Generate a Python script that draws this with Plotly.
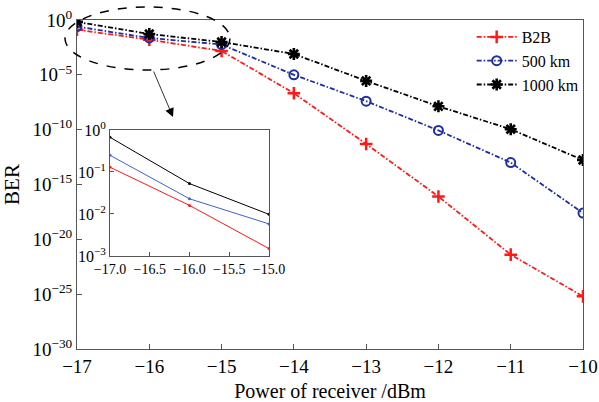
import plotly.graph_objects as go

power = [-17, -16, -15, -14, -13, -12, -11, -10]
ber_b2b = [0.13, 0.016, 1.5e-3, 2.1e-7, 5e-12, 8e-17, 4e-22, 6.3e-26]
ber_500 = [0.25, 0.023, 5.8e-3, 1e-5, 4e-8, 8.5e-11, 1e-13, 2.5e-18]
ber_1000 = [0.67, 0.053, 9.8e-3, 8e-4, 2.8e-6, 1.35e-8, 1.1e-10, 1.7e-13]
series_names = ["B2B", "500 km", "1000 km"]

x_ticks = [-17, -16, -15, -14, -13, -12, -11, -10]
x_ticktext = ["\u2212" + str(abs(v)) for v in x_ticks]
y_exps = [0, -5, -10, -15, -20, -25, -30]
inset_x_ticks = [-17.0, -16.5, -16.0, -15.5, -15.0]
inset_x_ticktext = ["\u2212%.1f" % abs(v) for v in inset_x_ticks]
inset_y_exps = [0, -1, -2, -3]

FONT = "Liberation Serif, Times New Roman, serif"
red, blue, black = "#ff1a1a", "#1f2fa0", "#000000"
DASH = "5px,2px,1.5px,2px"

fig = go.Figure()
fig.add_trace(go.Scatter(x=power, y=ber_b2b, name=series_names[0], mode="lines+markers",
                         line=dict(color=red, width=1.8, dash=DASH),
                         marker=dict(symbol="cross-thin-open", size=9, line=dict(color=red, width=2.5))))
fig.add_trace(go.Scatter(x=power, y=ber_500, name=series_names[1], mode="lines+markers",
                         line=dict(color=blue, width=1.8, dash=DASH),
                         marker=dict(symbol="circle-open", size=9, line=dict(color=blue, width=2))))
fig.add_trace(go.Scatter(x=power, y=ber_1000, name=series_names[2], mode="lines+markers",
                         line=dict(color=black, width=1.8, dash=DASH),
                         marker=dict(symbol="asterisk-open", size=10, line=dict(color=black, width=2.6))))

# inset
n_in = 3
for ys, c in [(ber_1000, black), (ber_500, "#4060d0"), (ber_b2b, red)]:
    fig.add_trace(go.Scatter(x=power[:n_in], y=ys[:n_in], mode="lines+markers", showlegend=False,
                             line=dict(color=c, width=1), marker=dict(color=c, size=3),
                             xaxis="x2", yaxis="y2"))

axis_common = dict(showline=True, linecolor="#555", linewidth=1, mirror=True, ticks="inside",
                   tickcolor="#555", showgrid=False, zeroline=False, automargin=False)

fig.update_layout(
    width=599, height=402,
    margin=dict(l=77, r=16, t=20, b=53),
    plot_bgcolor="white", paper_bgcolor="white",
    font=dict(family=FONT, color="black", size=17),
    xaxis=dict(range=[-17, -10], tickvals=x_ticks, ticktext=x_ticktext, ticklen=5,
               title=dict(text="Power of receiver /dBm", font=dict(size=20, family=FONT)),
               tickfont=dict(size=19, family=FONT), **axis_common),
    yaxis=dict(type="log", range=[-30, 0], tickvals=[10.0 ** e for e in y_exps],
               ticktext=["10<sup>%s</sup>" % ("\u2212" + str(-e) if e < 0 else str(e)) for e in y_exps],
               ticklen=5, tickfont=dict(size=19, family=FONT),
               title=dict(text="BER", font=dict(size=21, family=FONT)), **axis_common),
    xaxis2=dict(domain=[0.0652, 0.3794], anchor="y2", range=[-17, -15], tickvals=inset_x_ticks,
                ticktext=inset_x_ticktext, tickfont=dict(size=14, family=FONT), ticklen=4, **axis_common),
    yaxis2=dict(domain=[0.2827, 0.6657], anchor="x2", type="log", range=[-3, 0],
                tickvals=[10.0 ** e for e in inset_y_exps],
                ticktext=["10<sup>%s</sup>" % ("\u2212" + str(-e) if e < 0 else str(e)) for e in inset_y_exps],
                tickfont=dict(size=16, family=FONT), ticklen=4, **axis_common),
    legend=dict(x=0.78, y=1.0, xanchor="left", yanchor="top", bgcolor="rgba(0,0,0,0)",
                font=dict(size=16, family=FONT), tracegroupgap=0, itemwidth=40),
    showlegend=True,
)

# dashed ellipse highlighting the zoomed region
fig.add_shape(type="circle", xref="paper", yref="paper",
              x0=(65 - 77) / 506, x1=(230 - 77) / 506, y0=(349 - 70) / 329, y1=(349 - 7) / 329,
              line=dict(color="black", width=1.5, dash="dash"), layer="above")

fig.add_annotation(xref="paper", yref="paper", x=(173 - 77) / 506, y=(349 - 117) / 329,
                   ax=-20, ay=-47, axref="pixel", ayref="pixel",
                   showarrow=True, arrowhead=2, arrowsize=2.2, arrowwidth=0.8, arrowcolor="black", text="")

fig.write_html("out.html", config={"displayModeBar": False},
               post_script="document.body.style.margin='0';")
